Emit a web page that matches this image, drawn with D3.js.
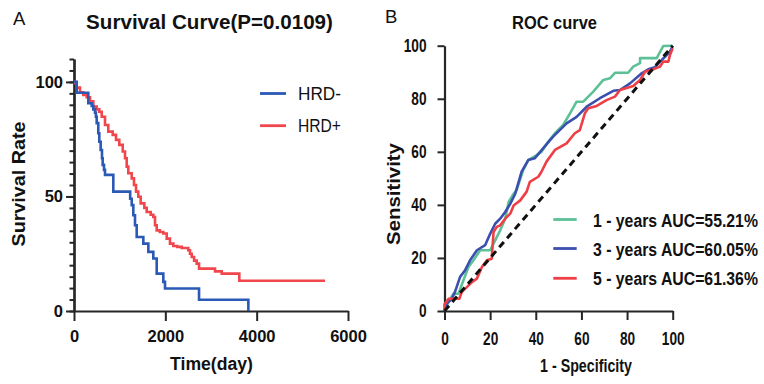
<!DOCTYPE html>
<html><head><meta charset="utf-8">
<script src="https://cdn.jsdelivr.net/npm/d3@7/dist/d3.min.js"></script>
<style>body{margin:0;background:#fff}svg{display:block}</style>
</head><body>
<svg id="c" width="764" height="384"></svg>
<script>
// ---------- Panel A: Kaplan-Meier data ----------
const survTicksX = [0, 2000, 4000, 6000];
const survTicksY = [0, 50, 100];
const survGroups = ["HRD-", "HRD+"];
const hrdNegTime = [0, 59, 313, 387, 423, 460, 480, 497, 532, 554, 584, 613, 628, 657, 679, 861, 1230, 1264, 1299, 1336, 1373, 1518, 1628, 1737, 1811, 1956, 1993, 2738, 3818];
const hrdNegSurv = [100, 95.3, 90.7, 89.5, 88, 86.6, 84.8, 82, 77.6, 73.9, 70.3, 66.7, 63.8, 61.6, 59.4, 52.1, 49, 46.2, 41.8, 37.4, 32.3, 29.4, 25.8, 22.9, 16.3, 12.7, 9.8, 4.9, 0];
const hrdPosTime = [0, 22, 59, 131, 204, 278, 350, 423, 497, 554, 607, 679, 751, 848, 920, 992, 1067, 1117, 1154, 1189, 1264, 1314, 1358, 1408, 1460, 1540, 1592, 1680, 1737, 1774, 1811, 1880, 1956, 2030, 2102, 2175, 2260, 2359, 2503, 2540, 2578, 2630, 2687, 2738, 3088, 3235, 3620, 5497];
const hrdPosSurv = [100, 99.5, 97.5, 95.5, 94.3, 93.3, 91.5, 89.2, 88, 87, 84.8, 81.2, 78.3, 76.9, 74.7, 72.5, 69.6, 66.7, 63, 60.1, 57.9, 55, 52.1, 49.9, 47, 45, 43.2, 42, 41, 37.4, 35.2, 34.5, 33.8, 31.6, 29.4, 28.4, 28, 27.5, 26.5, 25, 23.6, 22, 20.7, 18.5, 17.3, 16.3, 13.2, 13.2];

// ---------- Panel B: ROC data ----------
const rocTicks = [0, 20, 40, 60, 80, 100];
const rocLabels = ["1 - years AUC=55.21%", "3 - years AUC=60.05%", "5 - years AUC=61.36%"];
const roc1Fpr = [0, 1.75, 3.9, 6.1, 8.3, 10.5, 12.7, 15.6, 20, 22.2, 24.4, 26.6, 28.1, 30.3, 31.6, 34.5, 36.7, 40.4, 42.5, 45.4, 48.4, 52, 55, 57.9, 60.8, 65.2, 69.6, 72.5, 74.7, 80.5, 82.7, 85.7, 85.7, 93, 95.9, 99.6, 100];
const roc1Tpr = [0, 3.4, 6.5, 6.5, 11.6, 16.6, 19.1, 22.9, 22.9, 26.6, 30.4, 34.8, 41.1, 44.2, 45.6, 53.1, 56.9, 58.8, 60, 63.8, 67, 70.1, 74.5, 78.9, 78.9, 82.7, 87.1, 87.7, 89.8, 89.8, 92.1, 93.4, 95.3, 95.3, 99.9, 100, 100];
const roc3Fpr = [0, 1, 3.2, 4.6, 6.8, 9, 11.2, 14.2, 17.8, 20, 22.2, 24.4, 26.6, 28.8, 31, 33.8, 36.7, 39.6, 43.2, 47.6, 53.5, 57.9, 62.3, 68.1, 74, 76.9, 81.3, 86.4, 89.3, 92.2, 95.2, 98.8, 100];
const roc3Tpr = [0, 2.8, 4.6, 7.2, 12.8, 15.3, 19.1, 22.9, 24.8, 29.1, 32.9, 34.8, 37.3, 40.4, 44.2, 52.5, 56.9, 57.6, 61.3, 65.7, 70.7, 73.2, 77, 80.2, 83, 83.3, 85.8, 89.6, 91.1, 91.9, 94.6, 97.7, 100];
const roc5Fpr = [0, 0, 1.8, 3.9, 6.5, 7.6, 9.8, 12, 14.2, 16.4, 18.6, 20.7, 21.5, 22.9, 24.4, 26.6, 28.8, 30.3, 33.2, 36, 37.4, 41.1, 42.5, 44.7, 48.4, 53.5, 57.1, 59.3, 61.5, 63, 66.7, 71, 74.7, 76.9, 82.7, 85.7, 87.9, 91.5, 94.4, 95.9, 98.1, 98.8, 100];
const roc5Tpr = [0, 2.5, 4.6, 4.6, 4.6, 7.2, 9, 10.9, 12.2, 16.6, 19.1, 19.7, 29.8, 31.7, 32.3, 34.8, 36.7, 39.8, 41.7, 45, 48.7, 50.6, 52.5, 56.3, 60.7, 63.2, 67, 68.2, 74.5, 76.4, 77.3, 79.5, 80.8, 83.3, 84.8, 87.1, 90.2, 91.1, 92.1, 94, 94, 96.5, 99];
const refFpr = [0, 100];
const refTpr = [0, 100];

// ---------- styles ----------
const FONT = "'Liberation Sans', Arial, sans-serif";
const survColors = ["#2a59b6", "#f0464c"];
const rocColors = ["#5cc196", "#3a4fae", "#ef3f46"];
const AXC = "#262626";

const svg = d3.select("#c");

function label(x, y, txt, o) {
  const t = svg.append("text").attr("x", 0).attr("y", 0).text(txt)
    .attr("font-family", FONT).attr("font-size", o.size)
    .attr("font-weight", o.bold ? "bold" : "normal")
    .attr("text-anchor", o.anchor || "start").attr("fill", "#111");
  let s = 1;
  if (o.len) s = o.len / t.node().getComputedTextLength();
  t.attr("transform", `translate(${x},${y})${o.rot ? " rotate(-90)" : ""} scale(${s},1)`);
  return t;
}
function styleAxis(g, size, charW) {
  g.attr("font-family", FONT).attr("font-size", size).attr("font-weight", "bold");
  g.select(".domain").attr("stroke", AXC).attr("stroke-width", 2.2);
  g.selectAll(".tick line").attr("stroke", AXC).attr("stroke-width", 2);
  g.selectAll(".tick text").attr("fill", "#111");
  if (charW) g.selectAll(".tick text").each(function () {
    const sel = d3.select(this);
    const s = (this.textContent.length * charW) / this.getComputedTextLength();
    const x = +sel.attr("x") || 0;
    sel.attr("x", x / s).attr("transform", `scale(${s},1)`);
  });
}

// ================= Panel A =================
const xA = d3.scaleLinear().domain([0, 6000]).range([74, 348]);
const yA = d3.scaleLinear().domain([0, 110]).range([311, 59]);

const gyMinor = svg.append("g").attr("transform", "translate(74,0)")
  .call(d3.axisLeft(yA).tickValues(d3.range(0, 111, 5)).tickSize(4.5).tickSizeOuter(0).tickFormat(""));
styleAxis(gyMinor, 16.5);
const gyA = svg.append("g").attr("transform", "translate(74,0)")
  .call(d3.axisLeft(yA).tickValues(survTicksY).tickSize(8).tickSizeOuter(0).tickPadding(3).tickFormat(d3.format("d")));
styleAxis(gyA, 16.5);
const gxA = svg.append("g").attr("transform", "translate(0,311)")
  .call(d3.axisBottom(xA).tickValues(survTicksX).tickSize(10).tickSizeOuter(0).tickPadding(9).tickFormat(d3.format("d")));
styleAxis(gxA, 16.5);

const survLine = d3.line().curve(d3.curveStepAfter).x(d => xA(d[0])).y(d => yA(d[1]));
const survData = [d3.zip(hrdNegTime, hrdNegSurv), d3.zip(hrdPosTime, hrdPosSurv)];
[1, 0].forEach(i => {
  svg.append("path").datum(survData[i]).attr("d", survLine)
    .attr("fill", "none").attr("stroke", survColors[i]).attr("stroke-width", 2.6)
    .attr("stroke-linejoin", "miter");
});

// legend A
survGroups.forEach((g, i) => {
  const y = 93.5 + i * 32.2;
  svg.append("line").attr("x1", 260).attr("x2", 286).attr("y1", y).attr("y2", y)
    .attr("stroke", survColors[i]).attr("stroke-width", 2.8);
  label(298, y + 6, g, { size: 17.5, len: 43 });
});

label(13, 25, "A", { size: 18.5 });
label(209.5, 29, "Survival Curve(P=0.0109)", { size: 20.5, bold: true, anchor: "middle", len: 247 });
label(25, 184, "Survival Rate", { size: 18.5, bold: true, anchor: "middle", rot: true, len: 125 });
label(211.5, 370, "Time(day)", { size: 18, bold: true, anchor: "middle", len: 83 });

// ================= Panel B =================
const xB = d3.scaleLinear().domain([0, 100]).range([444.5, 672.7]);
const yB = d3.scaleLinear().domain([0, 100]).range([311, 45.7]);

const gyB = svg.append("g").attr("transform", "translate(444.5,0)")
  .call(d3.axisLeft(yB).tickValues(rocTicks).tickSize(7).tickSizeOuter(0).tickPadding(11));
styleAxis(gyB, 18.5, 7.6);
const gxB = svg.append("g").attr("transform", "translate(0,311)")
  .call(d3.axisBottom(xB).tickValues(rocTicks).tickSize(9).tickSizeOuter(0).tickPadding(11.5));
styleAxis(gxB, 18.5, 7.6);

const rocLine = d3.line().x(d => xB(d[0])).y(d => yB(d[1]));
const rocData = [d3.zip(roc1Fpr, roc1Tpr), d3.zip(roc3Fpr, roc3Tpr), d3.zip(roc5Fpr, roc5Tpr)];
rocData.forEach((d, i) => {
  svg.append("path").datum(d).attr("d", rocLine)
    .attr("fill", "none").attr("stroke", rocColors[i]).attr("stroke-width", 2.6)
    .attr("stroke-linejoin", "round");
});
svg.append("path").datum(d3.zip(refFpr, refTpr)).attr("d", rocLine)
  .attr("fill", "none").attr("stroke", "#111").attr("stroke-width", 3)
  .attr("stroke-dasharray", "7,5");

// legend B
const legY = [219.5, 248.5, 278.3];
rocLabels.forEach((t, i) => {
  svg.append("line").attr("x1", 553.3).attr("x2", 576.7).attr("y1", legY[i]).attr("y2", legY[i])
    .attr("stroke", rocColors[i]).attr("stroke-width", 2.8);
  label(593, legY[i] + 7, t, { size: 19, bold: true, len: 165 });
});

label(385, 23.3, "B", { size: 18.5 });
label(554.5, 28.5, "ROC curve", { size: 19, bold: true, anchor: "middle", len: 85 });
label(400, 194, "Sensitivity", { size: 18.5, bold: true, anchor: "middle", rot: true, len: 102 });
label(586, 371.5, "1 - Specificity", { size: 19, bold: true, anchor: "middle", len: 92 });
</script>
</body></html>
